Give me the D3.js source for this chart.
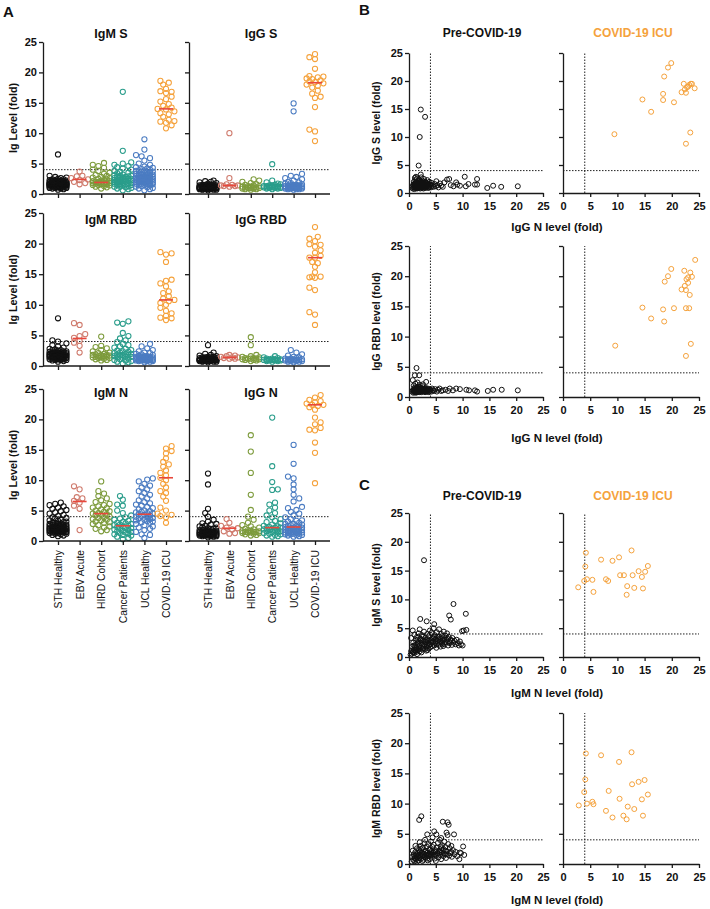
<!DOCTYPE html>
<html>
<head>
<meta charset="utf-8">
<style>
  body { margin: 0; background: #fff; }
  svg { display: block; }
  text { font-family: 'Liberation Sans', Arial, sans-serif; fill: #111; }
</style>
</head>
<body>
<div id="chart"></div>
<script src="https://cdn.jsdelivr.net/npm/d3@7"></script>
<script>
  // ---- data ----
  const groups = ['STH Healthy', 'EBV Acute', 'HIRD Cohort', 'Cancer Patients', 'UCL Healthy', 'COVID-19 ICU'];
  const groupColors = ['#111111', '#cf7a6c', '#7d9b3c', '#2a9d8b', '#4b7cc2', '#f5a23c'];
  const yTicks = [0, 5, 10, 15, 20, 25];
  const cutoff = 4;

  const igmS = [
    [0.7,0.8,0.9,0.9,1.0,1.0,1.1,1.1,1.2,1.2,1.2,1.3,1.3,1.3,1.4,1.4,1.4,1.4,1.5,1.5,1.5,1.5,1.5,1.6,1.6,1.6,1.6,1.7,1.7,1.7,1.7,1.8,1.8,1.8,1.8,1.9,1.9,1.9,2.0,2.0,2.0,2.1,2.1,2.2,2.2,2.3,2.3,2.4,2.5,2.6,2.7,2.8,3.0,6.5,
     1.3,1.4,1.5,1.6,1.7,1.8,1.9,1.5,1.6,1.7,1.4,1.8,1.2,1.1,2.0,2.1,1.6,1.5,1.7,1.9,1.3,1.0,2.2,2.4,1.8,1.4,1.6,1.2,1.5,1.7],
    [3.7,3.0,2.9,2.6,2.4,2.0,1.8,1.6,2.3],
    [0.9,1.1,1.2,1.3,1.4,1.5,1.5,1.6,1.6,1.7,1.7,1.8,1.8,1.8,1.9,1.9,1.9,2.0,2.0,2.1,2.1,2.2,2.3,2.4,2.5,2.6,2.7,2.8,3.0,3.1,3.3,3.5,3.8,4.0,4.3,4.6,4.8,5.1],
    [0.6,0.8,0.9,1.0,1.1,1.2,1.3,1.4,1.5,1.6,1.6,1.7,1.8,1.8,1.9,2.0,2.0,2.1,2.1,2.2,2.2,2.3,2.3,2.4,2.4,2.5,2.5,2.6,2.7,2.8,2.9,3.0,3.1,3.2,3.4,3.6,3.8,4.0,4.2,4.4,4.6,4.8,5.0,5.2,7.1,16.8,
     1.5,1.8,2.0,2.2,2.5,2.8,3.0,3.5,1.2,2.6],
    [0.6,0.8,0.9,1.0,1.1,1.2,1.3,1.4,1.5,1.5,1.6,1.7,1.8,1.9,1.9,2.0,2.0,2.1,2.1,2.2,2.2,2.3,2.3,2.4,2.4,2.5,2.5,2.6,2.6,2.7,2.7,2.8,2.8,2.9,3.0,3.0,3.1,3.2,3.3,3.4,3.5,3.6,3.7,3.8,3.9,4.0,4.1,4.2,4.3,4.5,4.8,5.0,5.5,5.9,6.2,6.4,7.3,9.0,
     1.6,1.8,2.0,2.2,2.4,2.6,2.8,3.0,3.2,3.4,2.1,2.3,2.5,2.7,2.9,1.7,1.9,3.6,3.9,4.4],
    [18.6,18.3,18.0,17.3,16.9,16.6,16.8,16.0,15.6,15.2,14.8,14.5,14.2,14.0,13.9,13.6,13.3,13.1,12.7,12.2,12.0,11.7,11.9,11.3,10.8]
  ];
  const igmSMedian = [null, 2.4, 1.9, null, null, 14.0];

  const iggS = [
    [0.6,0.7,0.7,0.8,0.8,0.8,0.9,0.9,0.9,0.9,1.0,1.0,1.0,1.0,1.0,1.1,1.1,1.1,1.1,1.1,1.2,1.2,1.2,1.2,1.3,1.3,1.3,1.4,1.4,1.5,1.5,1.6,1.7,1.8,1.9,2.0,2.1,2.2,0.9,1.0,1.1,1.2,
     0.9,1.0,1.1,1.0,0.8,1.2,1.3,0.9,1.0,1.1,1.4,0.7,1.0,1.2,0.9,1.1,1.5,1.3,0.8,1.0],
    [10.0,2.6,1.6,1.5,1.4,1.4,1.3,1.3,1.2],
    [0.7,0.8,0.8,0.9,0.9,1.0,1.0,1.0,1.1,1.1,1.1,1.2,1.2,1.3,1.3,1.4,1.5,1.6,1.8,2.0,2.2,2.4],
    [0.8,0.9,0.9,1.0,1.0,1.0,1.1,1.1,1.1,1.1,1.2,1.2,1.2,1.2,1.3,1.3,1.3,1.4,1.4,1.5,1.6,1.7,1.9,2.2,4.9],
    [0.7,0.8,0.8,0.9,0.9,1.0,1.0,1.0,1.1,1.1,1.1,1.2,1.2,1.2,1.3,1.3,1.3,1.4,1.4,1.5,1.5,1.6,1.7,1.8,1.9,2.0,2.2,2.4,2.6,2.8,3.0,3.3,13.6,14.9,
     1.0,1.1,1.2,1.3,0.9,1.0,1.1,1.2,1.4,0.8],
    [23.0,22.5,22.2,20.6,19.4,19.3,19.2,19.0,18.9,18.7,18.5,18.4,18.2,18.0,17.8,17.5,17.0,16.5,16.0,15.8,14.3,10.6,10.3,8.7]
  ];
  const iggSMedian = [null, 1.4, null, null, null, 18.3];

  const igmRBD = [
    [0.7,0.8,0.9,1.0,1.0,1.1,1.1,1.2,1.2,1.3,1.3,1.4,1.4,1.4,1.5,1.5,1.5,1.6,1.6,1.6,1.7,1.7,1.7,1.8,1.8,1.8,1.9,1.9,2.0,2.0,2.0,2.1,2.1,2.2,2.2,2.3,2.4,2.5,2.6,2.7,2.8,3.0,3.2,3.4,3.7,4.0,4.2,7.8,
     1.4,1.5,1.6,1.7,1.8,1.9,2.0,1.3,1.2,1.5,1.6,1.7,2.1,2.3,1.1,1.4,1.8,1.9,2.2,1.0,1.6,1.5,2.4,2.6,1.7],
    [7.0,6.7,5.2,4.9,4.6,4.1,3.8,3.3,2.2],
    [0.9,1.0,1.1,1.2,1.3,1.3,1.4,1.4,1.5,1.5,1.6,1.6,1.7,1.7,1.8,1.8,1.9,2.0,2.1,2.2,2.4,2.6,2.9,3.1,3.3,4.8],
    [0.4,0.6,0.7,0.8,0.9,1.0,1.1,1.2,1.3,1.4,1.5,1.6,1.7,1.8,1.9,2.0,2.1,2.2,2.3,2.4,2.5,2.6,2.8,3.0,3.2,3.4,3.6,3.9,4.2,4.5,4.9,5.4,6.9,7.1,7.3,1.5,1.8,2.0],
    [0.6,0.7,0.8,0.8,0.9,0.9,1.0,1.0,1.0,1.1,1.1,1.1,1.2,1.2,1.2,1.3,1.3,1.3,1.4,1.4,1.4,1.5,1.5,1.6,1.6,1.7,1.8,1.9,2.0,2.1,2.2,2.4,2.6,2.9,3.2,3.6,
     0.9,1.0,1.1,1.2,1.3,1.4,1.0,1.1,1.2,0.8,1.5,1.3],
    [18.6,18.4,18.2,17.0,14.1,13.9,13.5,13.0,12.2,11.9,11.4,11.0,10.8,10.6,10.3,10.0,9.5,9.0,8.6,8.2,7.9,7.8,7.5]
  ];
  const igmRBDMedian = [null, 4.5, null, null, null, 10.8];

  const iggRBD = [
    [0.6,0.7,0.7,0.8,0.8,0.8,0.9,0.9,0.9,0.9,1.0,1.0,1.0,1.0,1.0,1.1,1.1,1.1,1.1,1.2,1.2,1.2,1.3,1.3,1.4,1.4,1.5,1.6,1.7,1.8,2.0,2.2,3.4,1.0,0.9,
     0.8,0.9,1.0,1.1,1.2,1.0,0.9,1.1,1.3,0.7,1.0,0.8,1.2,1.4,0.9,1.1,1.5,1.0],
    [1.8,1.7,1.6,1.5,1.4,1.4,1.3,1.2,1.2],
    [0.8,0.9,1.0,1.0,1.1,1.1,1.2,1.2,1.2,1.3,1.3,1.4,1.5,1.6,1.8,3.4,4.7],
    [0.7,0.8,0.8,0.9,0.9,0.9,1.0,1.0,1.0,1.0,1.1,1.1,1.1,1.2,1.2,1.3,1.4,1.6],
    [0.6,0.7,0.7,0.8,0.8,0.8,0.9,0.9,0.9,1.0,1.0,1.0,1.1,1.1,1.1,1.2,1.2,1.3,1.4,1.5,1.7,1.9,2.2,2.6],
    [22.7,21.1,20.8,20.4,19.9,19.8,19.5,18.9,18.5,18.0,17.7,17.7,17.0,16.8,16.2,15.3,14.6,14.5,14.6,14.4,12.8,12.4,8.8,8.4,6.7]
  ];
  const iggRBDMedian = [null, 1.4, null, null, null, 17.7];

  const igmN = [
    [0.8,0.9,1.0,1.1,1.2,1.3,1.4,1.5,1.5,1.6,1.6,1.7,1.7,1.8,1.8,1.9,1.9,2.0,2.0,2.1,2.1,2.2,2.2,2.3,2.3,2.4,2.5,2.6,2.7,2.8,2.9,3.0,3.1,3.2,3.3,3.5,3.7,3.9,4.1,4.3,4.5,4.7,4.9,5.1,5.3,5.5,5.7,5.9,6.1,6.3,2.0,2.4,1.8,2.6,
     1.5,1.7,1.9,2.1,2.3,1.6,1.8,2.0,2.2,2.5,2.7,1.4,1.3,2.4,2.8,3.0,3.4,3.8,1.9,2.1,1.2,2.6,1.7,2.0],
    [9.0,8.5,7.2,7.0,6.6,6.3,5.8,5.3,1.8],
    [1.6,1.8,2.0,2.2,2.4,2.6,2.8,3.0,3.1,3.2,3.4,3.5,3.6,3.8,3.9,4.0,4.2,4.3,4.4,4.5,4.6,4.8,4.9,5.0,5.2,5.4,5.5,5.7,5.9,6.1,6.4,6.7,7.0,7.4,7.8,8.2,9.8],
    [0.3,0.5,0.7,0.9,1.0,1.1,1.2,1.3,1.4,1.5,1.6,1.7,1.8,1.9,2.0,2.1,2.2,2.3,2.4,2.5,2.6,2.7,2.8,2.9,3.0,3.1,3.3,3.5,3.7,3.9,4.2,4.6,5.0,5.8,6.0,6.8,7.4],
    [0.5,1.0,1.1,1.5,1.8,2.0,2.2,2.4,2.6,2.8,3.0,3.1,3.2,3.3,3.4,3.5,3.6,3.7,3.8,3.9,4.0,4.1,4.2,4.3,4.4,4.5,4.6,4.7,4.8,4.9,5.0,5.2,5.4,5.6,5.8,6.0,6.2,6.4,6.7,7.0,7.3,7.6,7.9,8.2,8.5,8.8,9.1,9.4,9.8,10.1,10.3],
    [15.6,15.2,14.8,14.4,13.6,13.0,12.6,12.2,11.6,11.2,10.8,10.4,10.0,9.4,8.8,8.2,7.9,7.3,6.6,5.5,5.0,4.5,4.3,4.1,3.9,3.0]
  ];
  const igmNMedian = [null, 6.5, 4.5, 2.5, 4.4, 10.4];

  const iggN = [
    [0.6,0.7,0.8,0.8,0.9,0.9,1.0,1.0,1.0,1.1,1.1,1.1,1.2,1.2,1.2,1.3,1.3,1.3,1.4,1.4,1.4,1.5,1.5,1.6,1.6,1.7,1.8,1.9,2.0,2.1,2.2,2.3,2.5,2.7,2.9,3.2,3.5,4.0,4.6,5.3,9.3,11.1,
     0.8,0.9,1.0,1.1,1.2,1.3,1.4,1.0,1.1,1.2,0.9,1.5,1.6,1.3,1.7,1.8,2.0,1.1,1.2,1.4,2.4,2.8],
    [3.6,3.0,2.5,2.2,2.1,1.9,1.6,1.3,1.2],
    [0.9,1.0,1.1,1.2,1.3,1.3,1.4,1.4,1.5,1.5,1.5,1.6,1.6,1.7,1.8,1.9,2.0,2.2,2.4,2.6,3.0,3.5,4.0,5.1,7.6,11.2,14.7,17.4],
    [0.7,0.8,0.9,1.0,1.1,1.2,1.3,1.4,1.5,1.6,1.7,1.8,1.9,2.0,2.1,2.2,2.3,2.4,2.5,2.7,2.9,3.1,3.3,3.6,3.9,4.2,4.6,5.0,5.5,6.0,6.3,8.4,8.5,9.7,12.3,20.3,1.6,1.9,2.2],
    [0.7,0.8,0.9,1.0,1.1,1.2,1.3,1.4,1.5,1.6,1.7,1.8,1.9,2.0,2.1,2.2,2.3,2.4,2.5,2.6,2.7,2.8,3.0,3.2,3.4,3.6,3.9,4.2,4.5,4.8,5.1,5.4,5.6,6.5,7.0,7.6,8.5,9.3,10.3,10.6,12.7,15.8,1.4,1.8,2.2,
     1.0,1.2,1.4,1.6,1.8,2.0,1.1,1.3,1.5,2.4,2.8,3.3],
    [24.0,23.6,23.2,23.0,22.8,22.6,22.4,22.4,22.2,22.0,21.6,20.3,19.5,19.2,18.6,18.3,18.2,16.2,14.5,9.5]
  ];
  const iggNMedian = [null, 2.1, null, 2.2, 2.3, 22.4];

  // scatter pairs [x, y]
  const iggSvsN_pre = [
    [0.6,1.1],[0.7,0.8],[0.8,1.5],[0.9,1.0],[0.9,2.0],[1.0,1.3],[1.0,0.7],[1.1,1.7],[1.1,1.0],[1.2,2.3],
    [1.2,1.2],[1.3,0.9],[1.3,1.5],[1.4,1.9],[1.4,1.1],[1.5,2.6],[1.5,0.8],[1.5,1.4],[1.6,1.7],[1.6,1.0],
    [1.7,2.1],[1.7,1.3],[1.8,0.9],[1.8,1.6],[1.9,1.2],[1.9,2.4],[2.0,1.0],[2.0,1.8],[2.1,1.4],[2.1,0.8],
    [2.2,2.0],[2.2,1.1],[2.3,1.5],[2.3,2.8],[2.4,1.2],[2.4,0.9],[2.5,1.7],[2.5,2.2],[2.6,1.0],[2.6,1.4],
    [2.7,1.9],[2.7,0.8],[2.8,1.3],[2.8,2.5],[2.9,1.1],[2.9,1.6],[3.0,2.0],[3.0,0.9],[3.1,1.4],[3.2,1.2],
    [3.2,1.8],[3.3,1.0],[3.4,1.5],[3.4,2.3],[3.5,1.2],[3.6,1.7],[3.6,0.9],[3.7,1.3],[3.8,2.0],[3.9,1.1],
    [4.0,1.5],[4.1,1.0],[4.2,1.8],[4.4,1.3],[4.6,1.1],[4.8,1.6],[5.0,1.2],[5.1,2.1],[5.3,1.4],[5.5,1.0],
    [5.8,1.7],[6.0,1.3],[6.3,1.1],[6.6,1.9],[7.1,2.4],[7.5,2.5],[7.8,1.4],[8.3,1.2],[8.8,1.9],[9.0,1.5],
    [9.5,1.3],[10.4,2.9],[10.6,1.2],[11.1,1.6],[12.3,1.5],[12.7,2.5],[12.7,1.5],[14.6,0.9],[15.7,1.3],[17.2,1.1],
    [20.3,1.2],[2.2,14.9],[3.0,13.6],[2.0,10.0],[1.8,4.9],[2.2,3.3],[1.1,2.7],[1.3,2.9],
    [0.8,1.3],[1.0,1.6],[1.2,1.0],[1.3,1.8],[1.4,1.3],[1.6,1.2],[1.7,1.5],[1.8,1.1],[1.9,1.9],[2.0,1.3],
    [2.1,1.7],[2.2,1.4],[2.3,1.0],[2.4,1.7],[2.5,1.2],[2.6,1.8],[2.7,1.1],[2.8,1.6],[3.0,1.3],[3.1,1.9],
    [3.3,1.4],[3.5,1.6],[3.7,1.0],[3.9,1.5],[1.1,1.4],[1.5,1.1],[1.7,0.9],[2.0,2.2],[2.4,1.5],[2.9,1.3]
  ];
  const iggSvsN_icu = [
    [9.45,10.5],[14.6,16.7],[16.2,14.5],[18.4,17.7],[18.4,16.6],[18.6,20.8],[19.3,22.4],[19.9,23.2],
    [20.4,16.2],[21.8,18.0],[22.2,19.5],[22.4,18.5],[22.6,17.9],[23.0,19.0],[23.2,19.3],[23.5,19.5],
    [23.7,19.5],[24.2,18.7],[23.4,10.8],[22.6,8.8],[22.8,18.9]
  ];
  const iggRBDvsN_pre = [
    [0.6,0.9],[0.7,1.1],[0.8,0.7],[0.9,1.3],[1.0,1.0],[1.0,0.8],[1.1,1.2],[1.1,1.6],[1.2,0.9],[1.2,1.4],
    [1.3,1.1],[1.3,0.7],[1.4,1.0],[1.4,1.5],[1.5,1.2],[1.5,0.8],[1.6,1.3],[1.6,1.0],[1.7,1.7],[1.7,0.9],
    [1.8,1.1],[1.8,1.4],[1.9,1.0],[1.9,0.8],[2.0,1.2],[2.0,1.6],[2.1,0.9],[2.1,1.3],[2.2,1.1],[2.3,1.5],
    [2.3,0.8],[2.4,1.0],[2.5,1.3],[2.5,1.8],[2.6,0.9],[2.7,1.1],[2.8,1.4],[2.9,1.0],[3.0,1.2],[3.0,0.8],
    [3.1,1.5],[3.2,1.0],[3.3,1.2],[3.4,0.9],[3.5,1.4],[3.6,1.1],[3.7,0.8],[3.8,1.3],[3.9,1.0],[4.0,1.2],
    [4.2,0.9],[4.3,1.4],[4.5,1.1],[4.7,1.0],[4.9,1.3],[5.2,0.9],[5.4,1.2],[5.7,1.4],[6.0,1.0],[6.3,1.1],
    [6.8,1.2],[7.3,1.0],[7.6,1.4],[8.2,1.1],[8.8,1.4],[9.5,1.3],[10.7,1.2],[11.2,1.1],[12.3,1.1],[12.7,0.9],
    [14.7,1.0],[15.7,1.2],[17.3,1.2],[20.3,1.1],[1.4,4.8],[1.1,3.6],[1.9,3.6],[0.7,2.8],[3.2,2.5],[1.2,2.2],
    [2.0,2.0],[1.6,2.4],[0.9,1.9],[2.6,2.1],
    [0.9,1.1],[1.1,0.9],[1.3,1.3],[1.5,1.0],[1.7,1.2],[1.9,1.4],[2.1,1.1],[2.3,1.2],[2.5,1.0],[2.7,1.3],
    [2.9,1.2],[3.1,0.9],[3.3,1.0],[3.5,1.1],[1.2,1.1],[1.6,1.5],[2.2,0.9],[2.8,1.0],[1.4,1.2],[1.8,1.0]
  ];
  const iggRBDvsN_icu = [
    [9.6,8.5],[14.6,14.8],[16.2,13.0],[18.4,14.5],[18.6,12.5],[18.7,19.1],[19.3,20.0],[19.9,21.2],
    [20.4,14.7],[21.8,17.8],[22.3,20.9],[22.4,18.4],[22.6,17.7],[22.6,14.7],[23.2,14.7],[22.7,19.5],
    [23.0,19.8],[23.4,20.6],[23.7,19.9],[23.3,16.9],[23.5,8.8],[22.6,6.8],[24.3,22.7],[23.0,18.9]
  ];
  const igmSvsN_pre = [
    [0.3,0.4],[0.4,1.0],[0.4,3.3],[0.5,0.6],[0.6,1.8],[0.7,4.6],[0.7,0.9],[0.8,2.5],[0.9,1.3],[1.0,0.7],
    [1.0,3.9],[1.1,2.0],[1.2,1.1],[1.3,2.9],[1.4,0.9],[1.4,1.6],[1.5,3.5],[1.6,2.3],[1.7,1.2],[1.8,4.1],
    [1.8,1.8],[1.9,2.7],[2.0,1.0],[2.1,3.2],[2.1,6.6],[2.2,1.6],[2.3,2.4],[2.4,3.8],[2.5,1.3],[2.6,2.9],
    [2.8,16.8],[2.7,1.9],[2.8,4.4],[2.9,2.2],[3.0,1.4],[3.1,3.4],[3.2,2.6],[3.3,6.2],[3.3,1.8],[3.4,4.0],
    [3.5,2.9],[3.6,1.5],[3.7,3.6],[3.8,2.2],[3.9,4.6],[4.0,1.7],[4.0,3.0],[4.1,2.5],[4.2,4.2],[4.3,1.9],
    [4.4,3.4],[4.5,2.7],[4.6,5.0],[4.7,5.7],[4.7,2.0],[4.8,3.8],[4.9,2.4],[5.0,3.1],[5.1,1.6],[5.2,4.3],
    [5.3,2.8],[5.4,3.5],[5.5,2.1],[5.6,4.8],[5.7,2.6],[5.8,3.2],[5.9,1.8],[6.0,4.0],[6.1,2.4],[6.2,3.6],
    [6.3,2.9],[6.4,1.9],[6.5,4.4],[6.6,3.1],[6.7,2.2],[6.8,3.7],[7.0,2.6],[7.1,4.1],[7.2,3.2],[7.3,2.0],
    [7.4,3.5],[7.5,7.2],[7.6,2.4],[7.8,6.5],[7.8,3.0],[8.0,2.1],[8.1,3.3],[8.3,9.2],[8.3,2.5],[8.5,2.8],
    [8.7,2.2],[8.9,3.0],[9.1,2.4],[9.3,2.0],[9.5,2.7],[9.7,2.2],[9.9,4.5],[10.0,2.0],[10.2,4.6],[10.6,7.5],
    [10.7,4.7],[1.5,0.5],[2.3,0.8],[3.2,1.1],[0.9,2.0],[1.6,3.0],[2.6,3.5],[3.5,1.2],[4.3,2.5],[2.0,4.8],
    [1.0,1.2],[1.5,1.4],[2.0,2.0],[2.5,2.2],[3.0,2.6],[3.5,2.4],[4.0,2.2],[4.5,3.2],[5.0,2.6],[5.5,3.0],
    [6.0,2.7],[6.5,3.0],[7.0,3.0],[1.2,1.7],[1.7,2.5],[2.2,2.9],[2.7,1.6],[3.2,3.0],[3.7,2.0],[4.2,2.8],
    [4.7,3.5],[5.2,2.2],[5.7,3.5],[6.2,2.2],[6.7,2.6],[7.5,2.6],[8.0,2.8],[0.8,0.8],[1.9,1.4],[2.9,2.8]
  ];
  const igmSvsN_icu = [
    [2.8,12.1],[3.9,13.2],[4.2,18.1],[4.1,15.7],[4.4,13.5],[5.4,13.4],[5.6,11.3],[7.0,16.9],
    [7.9,13.5],[8.3,13.2],[9.1,16.7],[10.3,17.3],[10.5,14.2],[11.2,14.2],[11.8,12.3],[11.7,10.8],
    [12.6,18.5],[12.8,14.2],[13.1,12.0],[13.9,14.9],[14.5,13.9],[14.7,11.9],[15.1,14.8],[15.6,15.8]
  ];
  const igmRBDvsN_pre = [
    [0.5,0.4],[0.6,1.2],[0.7,2.2],[0.8,0.7],[0.9,1.6],[1.0,0.5],[1.1,1.0],[1.2,2.0],[1.3,1.4],[1.4,0.8],
    [1.5,2.6],[1.6,1.2],[1.7,1.8],[1.8,0.6],[1.9,7.3],[1.9,2.3],[2.0,1.0],[2.1,1.5],[2.2,3.0],[2.3,7.9],
    [2.3,0.9],[2.4,1.9],[2.5,1.3],[2.6,2.7],[2.7,0.7],[2.8,1.7],[2.9,3.4],[3.0,1.1],[3.1,2.2],[3.2,1.5],
    [3.3,2.9],[3.4,4.9],[3.4,0.9],[3.5,1.9],[3.6,3.3],[3.7,1.3],[3.8,2.4],[3.9,0.8],[4.0,1.7],[4.1,3.7],
    [4.2,2.1],[4.3,1.2],[4.4,2.8],[4.5,1.6],[4.6,3.2],[4.7,5.4],[4.8,0.9],[4.9,2.3],[5.0,1.4],[5.1,4.9],
    [5.2,2.7],[5.3,1.8],[5.4,3.5],[5.5,1.1],[5.6,2.2],[5.75,4.0],[5.8,1.5],[5.9,2.9],[6.0,0.8],[6.1,1.9],
    [6.2,3.1],[6.3,7.0],[6.4,1.3],[6.5,2.4],[6.6,3.7],[6.7,1.6],[6.8,2.8],[6.9,1.0],[7.0,5.2],[7.1,2.1],
    [7.2,6.9],[7.2,4.8],[7.3,3.3],[7.4,6.5],[7.5,1.4],[7.6,2.6],[7.7,1.8],[7.9,3.0],[8.0,1.2],[8.2,2.3],
    [8.4,4.9],[8.5,1.6],[8.7,2.0],[9.0,1.3],[9.4,0.8],[9.5,1.9],[9.7,1.8],[10.1,2.9],[10.3,1.5],[1.5,0.4],
    [2.5,0.5],[3.5,0.6],[1.2,3.0],[2.0,3.6],[3.0,4.0],[4.4,4.4],[6.0,4.3],[5.0,0.5],
    [1.0,1.3],[1.5,1.6],[2.0,2.0],[2.5,1.5],[3.0,2.0],[3.5,1.4],[4.0,2.4],[4.5,1.9],[5.0,2.1],[5.5,1.7],
    [6.0,2.6],[6.5,1.8],[7.0,1.6],[1.3,0.9],[1.8,1.3],[2.8,1.2],[3.3,1.8],[3.8,1.6],[4.8,1.5],[5.8,2.0],
    [2.2,2.5],[4.2,1.5],[6.8,2.2],[7.8,2.0]
  ];
  const igmRBDvsN_icu = [
    [2.9,9.7],[3.9,11.9],[4.1,14.0],[4.2,18.3],[4.4,10.0],[5.4,10.3],[5.6,9.9],[7.0,18.0],
    [7.9,8.8],[8.4,12.1],[9.1,7.7],[10.3,16.9],[10.4,10.8],[11.1,8.0],[11.7,7.4],[11.9,9.5],
    [12.6,18.5],[12.7,13.2],[13.1,9.1],[13.9,13.6],[14.5,10.7],[14.7,8.0],[15.0,13.9],[15.6,11.5]
  ];

  // ---- setup ----
  const svg = d3.select('#chart').append('svg').attr('width', 710).attr('height', 909);
  const axisColor = '#1a1a1a';
  const medianColor = '#e8473c';
  const icuColor = '#f5a23c';

  function styleAxis(g, fontSize) {
    g.select('.domain').attr('stroke', axisColor).attr('stroke-width', 1.3);
    g.selectAll('.tick line').attr('stroke', axisColor).attr('stroke-width', 1.3);
    g.selectAll('.tick text')
      .attr('fill', '#111')
      .attr('font-family', "'Liberation Sans', Arial, sans-serif")
      .attr('font-weight', 'bold')
      .attr('font-size', fontSize);
  }

  // simple beeswarm, keeps points inside the column
  function swarm(vals, cx, y) {
    const step = 2.8, kmax = 3, minD = 4.4;
    const pts = vals.map((v) => ({ v, y: y(v) })).sort((a, b) => b.y - a.y);
    const placed = [];
    pts.forEach((p, i) => {
      const near = placed.filter((q) => Math.abs(q.y - p.y) < minD);
      let best = cx, bestD = -1;
      for (let k = 0; k <= kmax; k++) {
        const signs = k === 0 ? [0] : (i % 2 ? [k, -k] : [-k, k]);
        for (const s of signs) {
          const x = cx + s * step;
          const d = near.length ? d3.min(near, (q) => Math.hypot(q.x - x, q.y - p.y)) : Infinity;
          if (d >= minD) { p.x = x; placed.push(p); return; }
          if (d > bestD) { bestD = d; best = x; }
        }
      }
      p.x = best;
      placed.push(p);
    });
    return placed;
  }

  // ---- panel A ----
  const aCols = [
    { ax: 43, x0: 58, x1: 166, xEnd: 182, titleX: 111, labels: true },
    { ax: 189, x0: 208, x1: 315, xEnd: 330, titleX: 261, labels: false }
  ];
  const aRows = [
    { top: 42, bottom: 194, titleY: 38 },
    { top: 213, bottom: 366, titleY: 224 },
    { top: 389, bottom: 541, titleY: 397 }
  ];
  const aPanels = [
    [{ title: 'IgM S', data: igmS, med: igmSMedian }, { title: 'IgG S', data: iggS, med: iggSMedian }],
    [{ title: 'IgM RBD', data: igmRBD, med: igmRBDMedian }, { title: 'IgG RBD', data: iggRBD, med: iggRBDMedian }],
    [{ title: 'IgM N', data: igmN, med: igmNMedian }, { title: 'IgG N', data: iggN, med: iggNMedian }]
  ];

  svg.append('text').attr('x', 3).attr('y', 17).attr('font-size', 15).attr('font-weight', 'bold').text('A');

  aRows.forEach((row, ri) => {
    const y = d3.scaleLinear().domain([0, 25]).range([row.bottom, row.top]);
    svg.append('text')
      .attr('transform', `translate(13.5,${(row.top + row.bottom) / 2}) rotate(-90)`)
      .attr('text-anchor', 'middle').attr('dy', '0.35em')
      .attr('font-size', 10.8).attr('font-weight', 'bold')
      .text('Ig Level (fold)');

    aCols.forEach((col, ci) => {
      const panel = aPanels[ri][ci];
      const x = d3.scalePoint().domain(groups).range([col.x0, col.x1]);
      const g = svg.append('g');

      g.append('line')
        .attr('x1', col.ax).attr('x2', col.xEnd)
        .attr('y1', y(cutoff)).attr('y2', y(cutoff))
        .attr('stroke', '#222').attr('stroke-width', 1).attr('stroke-dasharray', '1.5,1.5');

      panel.data.forEach((vals, gi) => {
        const pts = swarm(vals, x(groups[gi]), y);
        g.append('g').selectAll('circle').data(pts).enter().append('circle')
          .attr('cx', (d) => d.x).attr('cy', (d) => d.y).attr('r', 2.6)
          .attr('fill', 'none').attr('stroke', groupColors[gi]).attr('stroke-width', 1.05);
      });

      g.selectAll('.med').data(panel.med.map((m, gi) => ({ m, gi })).filter((d) => d.m !== null))
        .enter().append('line')
        .attr('x1', (d) => x(groups[d.gi]) - 7).attr('x2', (d) => x(groups[d.gi]) + 7)
        .attr('y1', (d) => y(d.m)).attr('y2', (d) => y(d.m))
        .attr('stroke', medianColor).attr('stroke-width', 1.6);

      // y axis
      g.append('g').attr('transform', `translate(${col.ax},0)`)
        .call(d3.axisLeft(y).tickValues(yTicks).tickSize(4).tickSizeOuter(0).tickPadding(2)
          .tickFormat(col.labels ? d3.format('d') : () => ''))
        .call((a) => styleAxis(a, 11));

      // x axis: line across, ticks at groups
      const xg = g.append('g').attr('transform', `translate(0,${row.bottom})`)
        .call(d3.axisBottom(x).tickSize(4).tickSizeOuter(0).tickFormat(ri === 2 ? (d) => d : () => ''));
      xg.select('.domain').remove();
      xg.append('line').attr('x1', col.ax).attr('x2', col.xEnd)
        .attr('stroke', axisColor).attr('stroke-width', 1.3);
      xg.selectAll('.tick line').attr('stroke', axisColor).attr('stroke-width', 1.3);
      xg.selectAll('.tick text')
        .attr('transform', 'rotate(-90)')
        .attr('text-anchor', 'end')
        .attr('x', -9).attr('y', 0).attr('dy', '0.35em')
        .attr('fill', '#111')
        .attr('font-family', "'Liberation Sans', Arial, sans-serif")
        .attr('font-size', 10.3);

      g.append('text').attr('x', col.titleX).attr('y', row.titleY)
        .attr('text-anchor', 'middle').attr('font-size', 12.5).attr('font-weight', 'bold')
        .text(panel.title);
    });
  });

  // ---- panels B and C ----
  svg.append('text').attr('x', 359).attr('y', 15).attr('font-size', 15).attr('font-weight', 'bold').text('B');
  svg.append('text').attr('x', 359).attr('y', 490).attr('font-size', 15).attr('font-weight', 'bold').text('C');

  const sCols = [{ x0: 409, x1: 543 }, { x0: 563, x1: 699 }];
  const sRows = [
    { top: 53, bottom: 193, yTitle: 'IgG S level (fold)', xTitle: 'IgG N level (fold)', xTitleY: 231, titleY: 37, pre: iggSvsN_pre, icu: iggSvsN_icu },
    { top: 246, bottom: 397, yTitle: 'IgG RBD level (fold)', xTitle: 'IgG N level (fold)', xTitleY: 442, titleY: null, pre: iggRBDvsN_pre, icu: iggRBDvsN_icu },
    { top: 513, bottom: 657, yTitle: 'IgM S level (fold)', xTitle: 'IgM N level (fold)', xTitleY: 697, titleY: 500, pre: igmSvsN_pre, icu: igmSvsN_icu },
    { top: 713, bottom: 864, yTitle: 'IgM RBD level (fold)', xTitle: 'IgM N level (fold)', xTitleY: 904, titleY: null, pre: igmRBDvsN_pre, icu: igmRBDvsN_icu }
  ];

  sRows.forEach((row) => {
    const y = d3.scaleLinear().domain([0, 25]).range([row.bottom, row.top]);

    svg.append('text')
      .attr('transform', `translate(376,${(row.top + row.bottom) / 2}) rotate(-90)`)
      .attr('text-anchor', 'middle').attr('dy', '0.35em')
      .attr('font-size', 10.5).attr('font-weight', 'bold')
      .text(row.yTitle);

    svg.append('text').attr('x', 557).attr('y', row.xTitleY)
      .attr('text-anchor', 'middle').attr('font-size', 11.5).attr('font-weight', 'bold')
      .text(row.xTitle);

    sCols.forEach((col, ci) => {
      const x = d3.scaleLinear().domain([0, 25]).range([col.x0, col.x1]);
      const g = svg.append('g');
      const pts = ci === 0 ? row.pre : row.icu;
      const color = ci === 0 ? '#111' : icuColor;

      g.append('line').attr('x1', x(0)).attr('x2', x(25)).attr('y1', y(cutoff)).attr('y2', y(cutoff))
        .attr('stroke', '#222').attr('stroke-width', 1).attr('stroke-dasharray', '1.5,1.5');
      g.append('line').attr('x1', x(cutoff)).attr('x2', x(cutoff)).attr('y1', y(0)).attr('y2', y(25))
        .attr('stroke', '#222').attr('stroke-width', 1).attr('stroke-dasharray', '1.5,1.5');

      g.append('g').selectAll('circle').data(pts).enter().append('circle')
        .attr('cx', (d) => x(d[0])).attr('cy', (d) => y(d[1])).attr('r', 2.5)
        .attr('fill', 'none').attr('stroke', color).attr('stroke-width', 1);

      g.append('g').attr('transform', `translate(${col.x0},0)`)
        .call(d3.axisLeft(y).tickValues(yTicks).tickSize(4).tickSizeOuter(0).tickPadding(2)
          .tickFormat(ci === 0 ? d3.format('d') : () => ''))
        .call((a) => styleAxis(a, 11));

      g.append('g').attr('transform', `translate(0,${row.bottom})`)
        .call(d3.axisBottom(x).tickValues(yTicks).tickSize(4).tickSizeOuter(0).tickPadding(5).tickFormat(d3.format('d')))
        .call((a) => styleAxis(a, 11));

      if (row.titleY !== null) {
        svg.append('text').attr('x', ci === 0 ? 482 : 633).attr('y', row.titleY)
          .attr('text-anchor', 'middle').attr('font-size', 12).attr('font-weight', 'bold')
          .style('fill', ci === 0 ? '#111' : icuColor)
          .text(ci === 0 ? 'Pre-COVID-19' : 'COVID-19 ICU');
      }
    });
  });
</script>
</body>
</html>
